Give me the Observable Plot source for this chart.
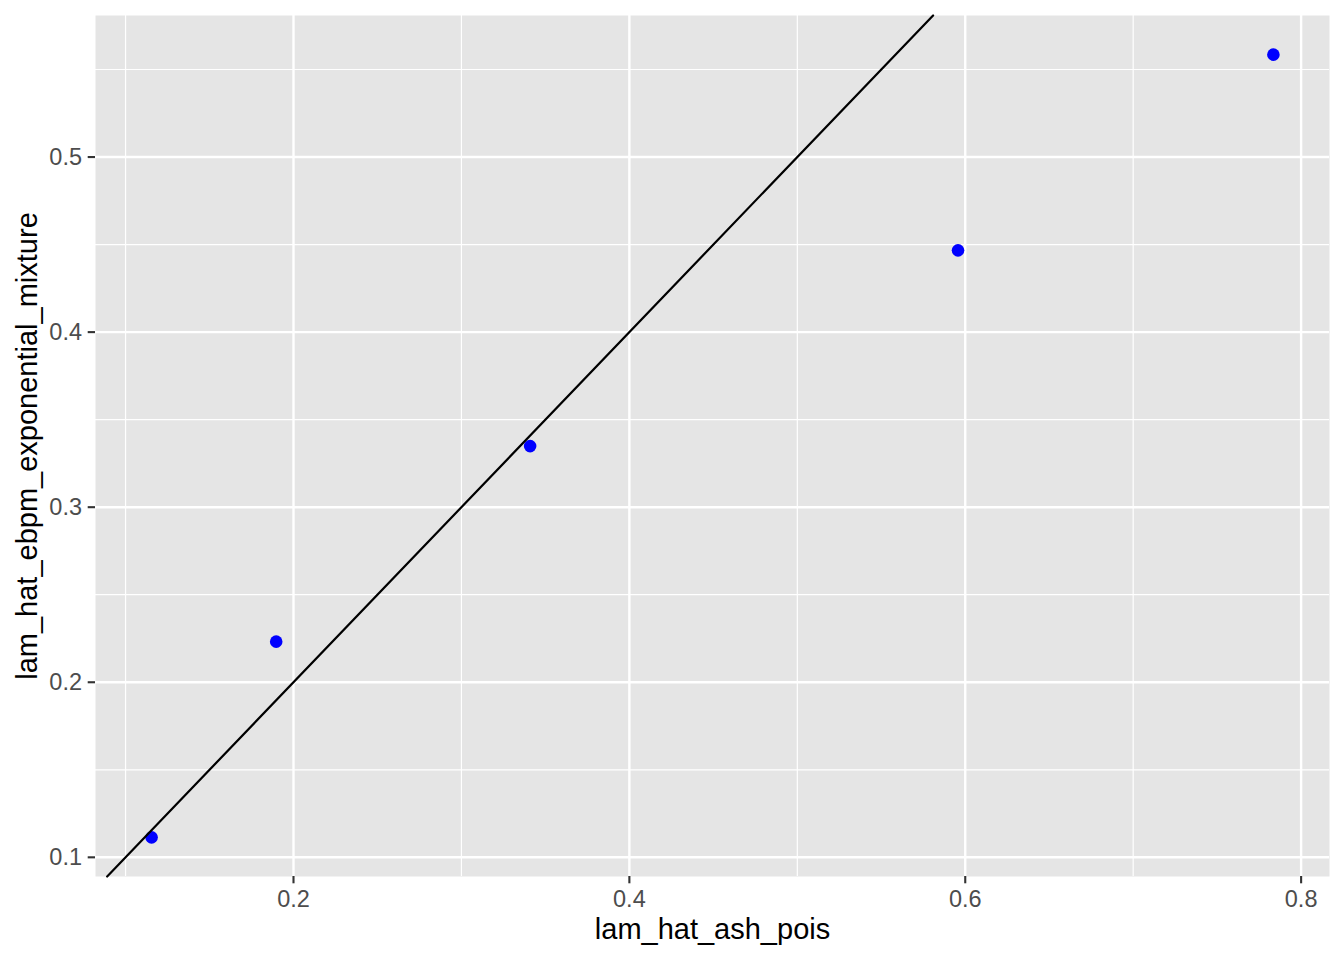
<!DOCTYPE html>
<html>
<head>
<meta charset="utf-8">
<script src="https://cdn.jsdelivr.net/npm/d3@7"></script>
<script src="https://cdn.jsdelivr.net/npm/@observablehq/plot@0.6"></script>
<style>
  html, body { margin: 0; padding: 0; background: #fff; }
  #chart svg { display: block; }
</style>
</head>
<body>
<div id="chart"></div>
<script>
// Data
const lamHatAshPois = [0.1155, 0.1897, 0.3409, 0.5957, 0.7835];
const lamHatEbpmExpMix = [0.1114, 0.2232, 0.3349, 0.4467, 0.5585];

// Tick values
const xMajor = [0.2, 0.4, 0.6, 0.8];
const xMinor = [0.1, 0.3, 0.5, 0.7];
const yMajor = [0.1, 0.2, 0.3, 0.4, 0.5];
const yMinor = [0.15, 0.25, 0.35, 0.45, 0.55];

const xTitle = "lam_hat_ash_pois";
const yTitle = "lam_hat_ebpm_exponential_mixture";

const points = lamHatAshPois.map((x, i) => ({x, y: lamHatEbpmExpMix[i]}));

// ggplot-like 5% expansion
function expand(vals) {
  const lo = d3.min(vals), hi = d3.max(vals), r = hi - lo;
  return [lo - 0.05 * r, hi + 0.05 * r];
}
const xDomain = expand(lamHatAshPois);
const yDomain = expand(lamHatEbpmExpMix);

// identity line y = x, within the panel
const lineStart = Math.max(xDomain[0], yDomain[0]);
const lineEnd = Math.min(xDomain[1], yDomain[1]);
const identity = [{x: lineStart, y: lineStart}, {x: lineEnd, y: lineEnd}];

const fmt = d3.format(".1f");

const chart = Plot.plot({
  width: 1344,
  height: 960,
  marginLeft: 95,
  marginRight: 15,
  marginTop: 15,
  marginBottom: 84,
  style: {fontFamily: "'Liberation Sans', Arial, sans-serif", background: "#fff"},
  x: {domain: xDomain},
  y: {domain: yDomain},
  marks: [
    Plot.frame({fill: "#E5E5E5", stroke: null}),
    Plot.ruleX(xMinor, {stroke: "#fff", strokeWidth: 1.2}),
    Plot.ruleY(yMinor, {stroke: "#fff", strokeWidth: 1.2}),
    Plot.ruleX(xMajor, {stroke: "#fff", strokeWidth: 2.4}),
    Plot.ruleY(yMajor, {stroke: "#fff", strokeWidth: 2.4}),
    Plot.axisX({ticks: xMajor, tickSize: 7.3, text: null, label: null, stroke: "#333", strokeWidth: 2.1}),
    Plot.axisX({ticks: xMajor, tickSize: 0, tickPadding: 13.5, tickFormat: fmt, label: null, fill: "#4D4D4D", fontSize: 23.5}),
    Plot.axisY({ticks: yMajor, tickSize: 7.3, text: null, label: null, stroke: "#333", strokeWidth: 2.1}),
    Plot.axisY({ticks: yMajor, tickSize: 0, tickPadding: 13.5, tickFormat: fmt, label: null, fill: "#4D4D4D", fontSize: 23.5}),
    Plot.dot(points, {x: "x", y: "y", r: 6.3, fill: "#0000FF", stroke: null}),
    Plot.line(identity, {x: "x", y: "y", stroke: "#000", strokeWidth: 2.2}),
    Plot.text([xTitle], {frameAnchor: "bottom", lineAnchor: "middle", textAnchor: "middle", dy: 53, fontSize: 29, fill: "#000"}),
    Plot.text([yTitle], {frameAnchor: "left", lineAnchor: "middle", textAnchor: "middle", dx: -68, rotate: -90, fontSize: 29, fill: "#000"})
  ]
});

document.getElementById("chart").appendChild(chart);
</script>
</body>
</html>
